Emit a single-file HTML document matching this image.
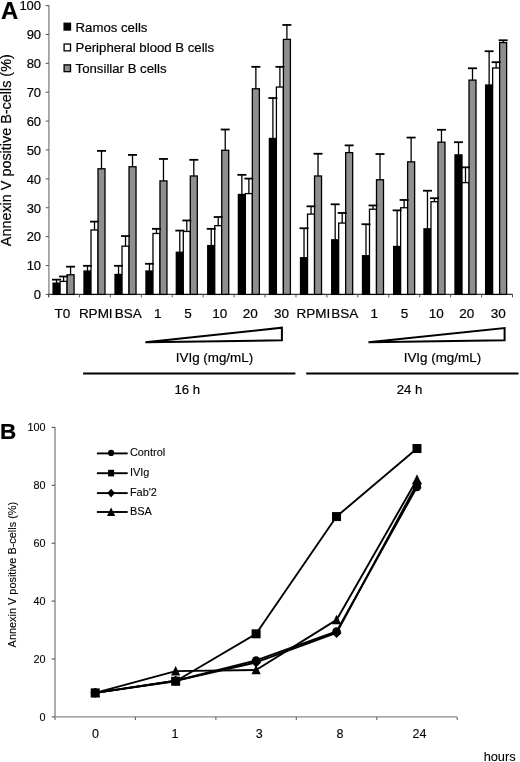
<!DOCTYPE html>
<html><head><meta charset="utf-8"><style>
html,body{margin:0;padding:0;background:#fff;}
body{width:520px;height:762px;overflow:hidden;}
svg{display:block;font-family:"Liberation Sans", sans-serif;will-change:transform;}
svg text{fill:#000;stroke:#000;stroke-width:0.2px;} svg text.b{stroke-width:0.1px;}
</style></head><body>
<svg width="520" height="762" viewBox="0 0 520 762">
<line x1="48.9" y1="5.30" x2="48.9" y2="296.9" stroke="#8a8a8a" stroke-width="1.4"/>
<line x1="45.699999999999996" y1="294.40" x2="48.9" y2="294.40" stroke="#555" stroke-width="1"/>
<text x="41.1" y="299.20" text-anchor="end" font-size="13">0</text>
<line x1="45.699999999999996" y1="265.52" x2="48.9" y2="265.52" stroke="#555" stroke-width="1"/>
<text x="41.1" y="270.32" text-anchor="end" font-size="13">10</text>
<line x1="45.699999999999996" y1="236.64" x2="48.9" y2="236.64" stroke="#555" stroke-width="1"/>
<text x="41.1" y="241.44" text-anchor="end" font-size="13">20</text>
<line x1="45.699999999999996" y1="207.76" x2="48.9" y2="207.76" stroke="#555" stroke-width="1"/>
<text x="41.1" y="212.56" text-anchor="end" font-size="13">30</text>
<line x1="45.699999999999996" y1="178.88" x2="48.9" y2="178.88" stroke="#555" stroke-width="1"/>
<text x="41.1" y="183.68" text-anchor="end" font-size="13">40</text>
<line x1="45.699999999999996" y1="150.00" x2="48.9" y2="150.00" stroke="#555" stroke-width="1"/>
<text x="41.1" y="154.80" text-anchor="end" font-size="13">50</text>
<line x1="45.699999999999996" y1="121.12" x2="48.9" y2="121.12" stroke="#555" stroke-width="1"/>
<text x="41.1" y="125.92" text-anchor="end" font-size="13">60</text>
<line x1="45.699999999999996" y1="92.24" x2="48.9" y2="92.24" stroke="#555" stroke-width="1"/>
<text x="41.1" y="97.04" text-anchor="end" font-size="13">70</text>
<line x1="45.699999999999996" y1="63.36" x2="48.9" y2="63.36" stroke="#555" stroke-width="1"/>
<text x="41.1" y="68.16" text-anchor="end" font-size="13">80</text>
<line x1="45.699999999999996" y1="34.48" x2="48.9" y2="34.48" stroke="#555" stroke-width="1"/>
<text x="41.1" y="39.28" text-anchor="end" font-size="13">90</text>
<line x1="45.699999999999996" y1="5.60" x2="48.9" y2="5.60" stroke="#555" stroke-width="1"/>
<text x="41.1" y="10.40" text-anchor="end" font-size="13">100</text>
<line x1="48.3" y1="294.4" x2="512.8" y2="294.4" stroke="#333" stroke-width="1.3"/>
<line x1="48.50" y1="294.4" x2="48.50" y2="297.4" stroke="#555" stroke-width="1"/>
<line x1="79.43" y1="294.4" x2="79.43" y2="297.4" stroke="#555" stroke-width="1"/>
<line x1="110.37" y1="294.4" x2="110.37" y2="297.4" stroke="#555" stroke-width="1"/>
<line x1="141.30" y1="294.4" x2="141.30" y2="297.4" stroke="#555" stroke-width="1"/>
<line x1="172.23" y1="294.4" x2="172.23" y2="297.4" stroke="#555" stroke-width="1"/>
<line x1="203.17" y1="294.4" x2="203.17" y2="297.4" stroke="#555" stroke-width="1"/>
<line x1="234.10" y1="294.4" x2="234.10" y2="297.4" stroke="#555" stroke-width="1"/>
<line x1="265.03" y1="294.4" x2="265.03" y2="297.4" stroke="#555" stroke-width="1"/>
<line x1="295.97" y1="294.4" x2="295.97" y2="297.4" stroke="#555" stroke-width="1"/>
<line x1="326.90" y1="294.4" x2="326.90" y2="297.4" stroke="#555" stroke-width="1"/>
<line x1="357.83" y1="294.4" x2="357.83" y2="297.4" stroke="#555" stroke-width="1"/>
<line x1="388.77" y1="294.4" x2="388.77" y2="297.4" stroke="#555" stroke-width="1"/>
<line x1="419.70" y1="294.4" x2="419.70" y2="297.4" stroke="#555" stroke-width="1"/>
<line x1="450.63" y1="294.4" x2="450.63" y2="297.4" stroke="#555" stroke-width="1"/>
<line x1="481.57" y1="294.4" x2="481.57" y2="297.4" stroke="#555" stroke-width="1"/>
<line x1="512.50" y1="294.4" x2="512.50" y2="297.4" stroke="#555" stroke-width="1"/>
<rect x="53.07" y="283.14" width="7.0" height="11.26" fill="#000" stroke="#000" stroke-width="1.3"/>
<rect x="60.07" y="281.40" width="7.0" height="13.00" fill="#fff" stroke="#000" stroke-width="1.3"/>
<rect x="67.07" y="274.76" width="7.0" height="19.64" fill="#8f8f8f" stroke="#000" stroke-width="1.3"/>
<line x1="56.57" y1="283.14" x2="56.57" y2="279.67" stroke="#000" stroke-width="1.3"/>
<line x1="52.07" y1="279.67" x2="61.07" y2="279.67" stroke="#000" stroke-width="1.8"/>
<line x1="63.57" y1="281.40" x2="63.57" y2="276.49" stroke="#000" stroke-width="1.3"/>
<line x1="59.07" y1="276.49" x2="68.07" y2="276.49" stroke="#000" stroke-width="1.8"/>
<line x1="70.57" y1="274.76" x2="70.57" y2="266.68" stroke="#000" stroke-width="1.3"/>
<line x1="66.07" y1="266.68" x2="75.07" y2="266.68" stroke="#000" stroke-width="1.8"/>
<text x="62.47" y="317.8" text-anchor="middle" font-size="13.5">T0</text>
<rect x="84.00" y="271.01" width="7.0" height="23.39" fill="#000" stroke="#000" stroke-width="1.3"/>
<rect x="91.00" y="230.00" width="7.0" height="64.40" fill="#fff" stroke="#000" stroke-width="1.3"/>
<rect x="98.00" y="168.77" width="7.0" height="125.63" fill="#8f8f8f" stroke="#000" stroke-width="1.3"/>
<line x1="87.50" y1="271.01" x2="87.50" y2="265.81" stroke="#000" stroke-width="1.3"/>
<line x1="83.00" y1="265.81" x2="92.00" y2="265.81" stroke="#000" stroke-width="1.8"/>
<line x1="94.50" y1="230.00" x2="94.50" y2="221.62" stroke="#000" stroke-width="1.3"/>
<line x1="90.00" y1="221.62" x2="99.00" y2="221.62" stroke="#000" stroke-width="1.8"/>
<line x1="101.50" y1="168.77" x2="101.50" y2="150.87" stroke="#000" stroke-width="1.3"/>
<line x1="97.00" y1="150.87" x2="106.00" y2="150.87" stroke="#000" stroke-width="1.8"/>
<text x="95.75" y="317.8" text-anchor="middle" font-size="13.5">RPMI</text>
<rect x="115.03" y="274.47" width="7.0" height="19.93" fill="#000" stroke="#000" stroke-width="1.3"/>
<rect x="122.03" y="246.17" width="7.0" height="48.23" fill="#fff" stroke="#000" stroke-width="1.3"/>
<rect x="129.03" y="166.75" width="7.0" height="127.65" fill="#8f8f8f" stroke="#000" stroke-width="1.3"/>
<line x1="118.53" y1="274.47" x2="118.53" y2="265.81" stroke="#000" stroke-width="1.3"/>
<line x1="114.03" y1="265.81" x2="123.03" y2="265.81" stroke="#000" stroke-width="1.8"/>
<line x1="125.53" y1="246.17" x2="125.53" y2="236.06" stroke="#000" stroke-width="1.3"/>
<line x1="121.03" y1="236.06" x2="130.03" y2="236.06" stroke="#000" stroke-width="1.8"/>
<line x1="132.53" y1="166.75" x2="132.53" y2="154.91" stroke="#000" stroke-width="1.3"/>
<line x1="128.03" y1="154.91" x2="137.03" y2="154.91" stroke="#000" stroke-width="1.8"/>
<text x="128.33" y="317.8" text-anchor="middle" font-size="13.5">BSA</text>
<rect x="145.97" y="271.01" width="7.0" height="23.39" fill="#000" stroke="#000" stroke-width="1.3"/>
<rect x="152.97" y="233.46" width="7.0" height="60.94" fill="#fff" stroke="#000" stroke-width="1.3"/>
<rect x="159.97" y="180.90" width="7.0" height="113.50" fill="#8f8f8f" stroke="#000" stroke-width="1.3"/>
<line x1="149.47" y1="271.01" x2="149.47" y2="263.79" stroke="#000" stroke-width="1.3"/>
<line x1="144.97" y1="263.79" x2="153.97" y2="263.79" stroke="#000" stroke-width="1.8"/>
<line x1="156.47" y1="233.46" x2="156.47" y2="228.84" stroke="#000" stroke-width="1.3"/>
<line x1="151.97" y1="228.84" x2="160.97" y2="228.84" stroke="#000" stroke-width="1.8"/>
<line x1="163.47" y1="180.90" x2="163.47" y2="158.95" stroke="#000" stroke-width="1.3"/>
<line x1="158.97" y1="158.95" x2="167.97" y2="158.95" stroke="#000" stroke-width="1.8"/>
<text x="157.77" y="317.8" text-anchor="middle" font-size="13.5">1</text>
<rect x="176.30" y="252.24" width="7.0" height="42.16" fill="#000" stroke="#000" stroke-width="1.3"/>
<rect x="183.30" y="231.44" width="7.0" height="62.96" fill="#fff" stroke="#000" stroke-width="1.3"/>
<rect x="190.30" y="175.99" width="7.0" height="118.41" fill="#8f8f8f" stroke="#000" stroke-width="1.3"/>
<line x1="179.80" y1="252.24" x2="179.80" y2="230.58" stroke="#000" stroke-width="1.3"/>
<line x1="175.30" y1="230.58" x2="184.30" y2="230.58" stroke="#000" stroke-width="1.8"/>
<line x1="186.80" y1="231.44" x2="186.80" y2="220.47" stroke="#000" stroke-width="1.3"/>
<line x1="182.30" y1="220.47" x2="191.30" y2="220.47" stroke="#000" stroke-width="1.8"/>
<line x1="193.80" y1="175.99" x2="193.80" y2="159.82" stroke="#000" stroke-width="1.3"/>
<line x1="189.30" y1="159.82" x2="198.30" y2="159.82" stroke="#000" stroke-width="1.8"/>
<text x="188.00" y="317.8" text-anchor="middle" font-size="13.5">5</text>
<rect x="207.73" y="245.59" width="7.0" height="48.81" fill="#000" stroke="#000" stroke-width="1.3"/>
<rect x="214.73" y="225.67" width="7.0" height="68.73" fill="#fff" stroke="#000" stroke-width="1.3"/>
<rect x="221.73" y="150.29" width="7.0" height="144.11" fill="#8f8f8f" stroke="#000" stroke-width="1.3"/>
<line x1="211.23" y1="245.59" x2="211.23" y2="228.84" stroke="#000" stroke-width="1.3"/>
<line x1="206.73" y1="228.84" x2="215.73" y2="228.84" stroke="#000" stroke-width="1.8"/>
<line x1="218.23" y1="225.67" x2="218.23" y2="217.00" stroke="#000" stroke-width="1.3"/>
<line x1="213.73" y1="217.00" x2="222.73" y2="217.00" stroke="#000" stroke-width="1.8"/>
<line x1="225.23" y1="150.29" x2="225.23" y2="129.50" stroke="#000" stroke-width="1.3"/>
<line x1="220.73" y1="129.50" x2="229.73" y2="129.50" stroke="#000" stroke-width="1.8"/>
<text x="219.83" y="317.8" text-anchor="middle" font-size="13.5">10</text>
<rect x="238.37" y="194.48" width="7.0" height="99.92" fill="#000" stroke="#000" stroke-width="1.3"/>
<rect x="245.37" y="193.61" width="7.0" height="100.79" fill="#fff" stroke="#000" stroke-width="1.3"/>
<rect x="252.37" y="88.77" width="7.0" height="205.63" fill="#8f8f8f" stroke="#000" stroke-width="1.3"/>
<line x1="241.87" y1="194.48" x2="241.87" y2="174.84" stroke="#000" stroke-width="1.3"/>
<line x1="237.37" y1="174.84" x2="246.37" y2="174.84" stroke="#000" stroke-width="1.8"/>
<line x1="248.87" y1="193.61" x2="248.87" y2="178.59" stroke="#000" stroke-width="1.3"/>
<line x1="244.37" y1="178.59" x2="253.37" y2="178.59" stroke="#000" stroke-width="1.8"/>
<line x1="255.87" y1="88.77" x2="255.87" y2="66.83" stroke="#000" stroke-width="1.3"/>
<line x1="251.37" y1="66.83" x2="260.37" y2="66.83" stroke="#000" stroke-width="1.8"/>
<text x="250.27" y="317.8" text-anchor="middle" font-size="13.5">20</text>
<rect x="269.40" y="138.45" width="7.0" height="155.95" fill="#000" stroke="#000" stroke-width="1.3"/>
<rect x="276.40" y="87.04" width="7.0" height="207.36" fill="#fff" stroke="#000" stroke-width="1.3"/>
<rect x="283.40" y="39.39" width="7.0" height="255.01" fill="#8f8f8f" stroke="#000" stroke-width="1.3"/>
<line x1="272.90" y1="138.45" x2="272.90" y2="98.02" stroke="#000" stroke-width="1.3"/>
<line x1="268.40" y1="98.02" x2="277.40" y2="98.02" stroke="#000" stroke-width="1.8"/>
<line x1="279.90" y1="87.04" x2="279.90" y2="66.83" stroke="#000" stroke-width="1.3"/>
<line x1="275.40" y1="66.83" x2="284.40" y2="66.83" stroke="#000" stroke-width="1.8"/>
<line x1="286.90" y1="39.39" x2="286.90" y2="24.95" stroke="#000" stroke-width="1.3"/>
<line x1="282.40" y1="24.95" x2="291.40" y2="24.95" stroke="#000" stroke-width="1.8"/>
<text x="281.50" y="317.8" text-anchor="middle" font-size="13.5">30</text>
<rect x="300.53" y="257.72" width="7.0" height="36.68" fill="#000" stroke="#000" stroke-width="1.3"/>
<rect x="307.53" y="214.11" width="7.0" height="80.29" fill="#fff" stroke="#000" stroke-width="1.3"/>
<rect x="314.53" y="175.99" width="7.0" height="118.41" fill="#8f8f8f" stroke="#000" stroke-width="1.3"/>
<line x1="304.03" y1="257.72" x2="304.03" y2="228.26" stroke="#000" stroke-width="1.3"/>
<line x1="299.53" y1="228.26" x2="308.53" y2="228.26" stroke="#000" stroke-width="1.8"/>
<line x1="311.03" y1="214.11" x2="311.03" y2="206.32" stroke="#000" stroke-width="1.3"/>
<line x1="306.53" y1="206.32" x2="315.53" y2="206.32" stroke="#000" stroke-width="1.8"/>
<line x1="318.03" y1="175.99" x2="318.03" y2="153.75" stroke="#000" stroke-width="1.3"/>
<line x1="313.53" y1="153.75" x2="322.53" y2="153.75" stroke="#000" stroke-width="1.8"/>
<text x="313.43" y="317.8" text-anchor="middle" font-size="13.5">RPMI</text>
<rect x="331.67" y="239.82" width="7.0" height="54.58" fill="#000" stroke="#000" stroke-width="1.3"/>
<rect x="338.67" y="223.07" width="7.0" height="71.33" fill="#fff" stroke="#000" stroke-width="1.3"/>
<rect x="345.67" y="152.60" width="7.0" height="141.80" fill="#8f8f8f" stroke="#000" stroke-width="1.3"/>
<line x1="335.17" y1="239.82" x2="335.17" y2="204.29" stroke="#000" stroke-width="1.3"/>
<line x1="330.67" y1="204.29" x2="339.67" y2="204.29" stroke="#000" stroke-width="1.8"/>
<line x1="342.17" y1="223.07" x2="342.17" y2="212.96" stroke="#000" stroke-width="1.3"/>
<line x1="337.67" y1="212.96" x2="346.67" y2="212.96" stroke="#000" stroke-width="1.8"/>
<line x1="349.17" y1="152.60" x2="349.17" y2="145.38" stroke="#000" stroke-width="1.3"/>
<line x1="344.67" y1="145.38" x2="353.67" y2="145.38" stroke="#000" stroke-width="1.8"/>
<text x="344.67" y="317.8" text-anchor="middle" font-size="13.5">BSA</text>
<rect x="362.50" y="255.70" width="7.0" height="38.70" fill="#000" stroke="#000" stroke-width="1.3"/>
<rect x="369.50" y="209.20" width="7.0" height="85.20" fill="#fff" stroke="#000" stroke-width="1.3"/>
<rect x="376.50" y="179.75" width="7.0" height="114.65" fill="#8f8f8f" stroke="#000" stroke-width="1.3"/>
<line x1="366.00" y1="255.70" x2="366.00" y2="224.22" stroke="#000" stroke-width="1.3"/>
<line x1="361.50" y1="224.22" x2="370.50" y2="224.22" stroke="#000" stroke-width="1.8"/>
<line x1="373.00" y1="209.20" x2="373.00" y2="205.45" stroke="#000" stroke-width="1.3"/>
<line x1="368.50" y1="205.45" x2="377.50" y2="205.45" stroke="#000" stroke-width="1.8"/>
<line x1="380.00" y1="179.75" x2="380.00" y2="154.04" stroke="#000" stroke-width="1.3"/>
<line x1="375.50" y1="154.04" x2="384.50" y2="154.04" stroke="#000" stroke-width="1.8"/>
<text x="374.30" y="317.8" text-anchor="middle" font-size="13.5">1</text>
<rect x="393.63" y="246.46" width="7.0" height="47.94" fill="#000" stroke="#000" stroke-width="1.3"/>
<rect x="400.63" y="207.76" width="7.0" height="86.64" fill="#fff" stroke="#000" stroke-width="1.3"/>
<rect x="407.63" y="161.84" width="7.0" height="132.56" fill="#8f8f8f" stroke="#000" stroke-width="1.3"/>
<line x1="397.13" y1="246.46" x2="397.13" y2="210.36" stroke="#000" stroke-width="1.3"/>
<line x1="392.63" y1="210.36" x2="401.63" y2="210.36" stroke="#000" stroke-width="1.8"/>
<line x1="404.13" y1="207.76" x2="404.13" y2="199.96" stroke="#000" stroke-width="1.3"/>
<line x1="399.63" y1="199.96" x2="408.63" y2="199.96" stroke="#000" stroke-width="1.8"/>
<line x1="411.13" y1="161.84" x2="411.13" y2="137.58" stroke="#000" stroke-width="1.3"/>
<line x1="406.63" y1="137.58" x2="415.63" y2="137.58" stroke="#000" stroke-width="1.8"/>
<text x="404.63" y="317.8" text-anchor="middle" font-size="13.5">5</text>
<rect x="423.97" y="228.84" width="7.0" height="65.56" fill="#000" stroke="#000" stroke-width="1.3"/>
<rect x="430.97" y="201.70" width="7.0" height="92.70" fill="#fff" stroke="#000" stroke-width="1.3"/>
<rect x="437.97" y="142.20" width="7.0" height="152.20" fill="#8f8f8f" stroke="#000" stroke-width="1.3"/>
<line x1="427.47" y1="228.84" x2="427.47" y2="190.72" stroke="#000" stroke-width="1.3"/>
<line x1="422.97" y1="190.72" x2="431.97" y2="190.72" stroke="#000" stroke-width="1.8"/>
<line x1="434.47" y1="201.70" x2="434.47" y2="198.23" stroke="#000" stroke-width="1.3"/>
<line x1="429.97" y1="198.23" x2="438.97" y2="198.23" stroke="#000" stroke-width="1.8"/>
<line x1="441.47" y1="142.20" x2="441.47" y2="129.78" stroke="#000" stroke-width="1.3"/>
<line x1="436.97" y1="129.78" x2="445.97" y2="129.78" stroke="#000" stroke-width="1.8"/>
<text x="436.37" y="317.8" text-anchor="middle" font-size="13.5">10</text>
<rect x="455.00" y="154.91" width="7.0" height="139.49" fill="#000" stroke="#000" stroke-width="1.3"/>
<rect x="462.00" y="182.63" width="7.0" height="111.77" fill="#fff" stroke="#000" stroke-width="1.3"/>
<rect x="469.00" y="80.11" width="7.0" height="214.29" fill="#8f8f8f" stroke="#000" stroke-width="1.3"/>
<line x1="458.50" y1="154.91" x2="458.50" y2="142.20" stroke="#000" stroke-width="1.3"/>
<line x1="454.00" y1="142.20" x2="463.00" y2="142.20" stroke="#000" stroke-width="1.8"/>
<line x1="465.50" y1="182.63" x2="465.50" y2="167.33" stroke="#000" stroke-width="1.3"/>
<line x1="461.00" y1="167.33" x2="470.00" y2="167.33" stroke="#000" stroke-width="1.8"/>
<line x1="472.50" y1="80.11" x2="472.50" y2="68.27" stroke="#000" stroke-width="1.3"/>
<line x1="468.00" y1="68.27" x2="477.00" y2="68.27" stroke="#000" stroke-width="1.8"/>
<text x="466.80" y="317.8" text-anchor="middle" font-size="13.5">20</text>
<rect x="485.63" y="85.02" width="7.0" height="209.38" fill="#000" stroke="#000" stroke-width="1.3"/>
<rect x="492.63" y="67.98" width="7.0" height="226.42" fill="#fff" stroke="#000" stroke-width="1.3"/>
<rect x="499.63" y="42.57" width="7.0" height="251.83" fill="#8f8f8f" stroke="#000" stroke-width="1.3"/>
<line x1="489.13" y1="85.02" x2="489.13" y2="51.23" stroke="#000" stroke-width="1.3"/>
<line x1="484.63" y1="51.23" x2="493.63" y2="51.23" stroke="#000" stroke-width="1.8"/>
<line x1="496.13" y1="67.98" x2="496.13" y2="62.20" stroke="#000" stroke-width="1.3"/>
<line x1="491.63" y1="62.20" x2="500.63" y2="62.20" stroke="#000" stroke-width="1.8"/>
<line x1="503.13" y1="42.57" x2="503.13" y2="40.26" stroke="#000" stroke-width="1.3"/>
<line x1="498.63" y1="40.26" x2="507.63" y2="40.26" stroke="#000" stroke-width="1.8"/>
<text x="498.23" y="317.8" text-anchor="middle" font-size="13.5">30</text>
<rect x="64.1" y="23.25" width="6.4" height="6.8" fill="#000" stroke="#000" stroke-width="1.3"/>
<text x="75.6" y="31.50" font-size="13.2">Ramos cells</text>
<rect x="64.1" y="44.05" width="6.4" height="6.8" fill="#fff" stroke="#000" stroke-width="1.3"/>
<text x="75.6" y="52.30" font-size="13.2">Peripheral blood B cells</text>
<rect x="64.1" y="64.85" width="6.4" height="6.8" fill="#8f8f8f" stroke="#000" stroke-width="1.3"/>
<text x="75.6" y="73.10" font-size="13.2">Tonsillar B cells</text>
<polygon points="145.4,342.2 281.9,327.7 281.9,340.3" fill="#fff" stroke="#000" stroke-width="2" stroke-linejoin="miter"/>
<polygon points="368.5,342.2 504.6,328.1 504.6,340.3" fill="#fff" stroke="#000" stroke-width="2" stroke-linejoin="miter"/>
<line x1="83.1" y1="373.5" x2="295.4" y2="373.5" stroke="#000" stroke-width="2.1"/>
<line x1="306.2" y1="373.5" x2="518.5" y2="373.5" stroke="#000" stroke-width="2.1"/>
<line x1="55.0" y1="427.10" x2="55.0" y2="716.9" stroke="#8a8a8a" stroke-width="1.4"/>
<line x1="51.6" y1="716.90" x2="55.0" y2="716.90" stroke="#555" stroke-width="1.1"/>
<text class="b" x="45.6" y="720.50" text-anchor="end" font-size="10.8">0</text>
<line x1="51.6" y1="659.00" x2="55.0" y2="659.00" stroke="#555" stroke-width="1.1"/>
<text class="b" x="45.6" y="662.60" text-anchor="end" font-size="10.8">20</text>
<line x1="51.6" y1="601.10" x2="55.0" y2="601.10" stroke="#555" stroke-width="1.1"/>
<text class="b" x="45.6" y="604.70" text-anchor="end" font-size="10.8">40</text>
<line x1="51.6" y1="543.20" x2="55.0" y2="543.20" stroke="#555" stroke-width="1.1"/>
<text class="b" x="45.6" y="546.80" text-anchor="end" font-size="10.8">60</text>
<line x1="51.6" y1="485.30" x2="55.0" y2="485.30" stroke="#555" stroke-width="1.1"/>
<text class="b" x="45.6" y="488.90" text-anchor="end" font-size="10.8">80</text>
<line x1="51.6" y1="427.40" x2="55.0" y2="427.40" stroke="#555" stroke-width="1.1"/>
<text class="b" x="45.6" y="431.00" text-anchor="end" font-size="10.8">100</text>
<line x1="55.0" y1="716.9" x2="457.2" y2="716.9" stroke="#8a8a8a" stroke-width="1.4"/>
<line x1="55.00" y1="716.9" x2="55.00" y2="719.9" stroke="#666" stroke-width="1.1"/>
<line x1="135.44" y1="716.9" x2="135.44" y2="719.9" stroke="#666" stroke-width="1.1"/>
<line x1="215.88" y1="716.9" x2="215.88" y2="719.9" stroke="#666" stroke-width="1.1"/>
<line x1="296.32" y1="716.9" x2="296.32" y2="719.9" stroke="#666" stroke-width="1.1"/>
<line x1="376.76" y1="716.9" x2="376.76" y2="719.9" stroke="#666" stroke-width="1.1"/>
<line x1="457.20" y1="716.9" x2="457.20" y2="719.9" stroke="#666" stroke-width="1.1"/>
<polyline points="95.22,692.87 175.66,680.71 256.10,660.45 336.54,631.50 416.98,487.04" fill="none" stroke="#000" stroke-width="1.9" stroke-linejoin="round"/>
<polyline points="95.22,692.87 175.66,681.29 256.10,633.81 336.54,516.57 416.98,448.53" fill="none" stroke="#000" stroke-width="1.9" stroke-linejoin="round"/>
<polyline points="95.22,692.87 175.66,680.71 256.10,662.47 336.54,632.94 416.98,483.85" fill="none" stroke="#000" stroke-width="1.9" stroke-linejoin="round"/>
<polyline points="95.22,692.87 175.66,671.16 256.10,670.00 336.54,619.92 416.98,479.51" fill="none" stroke="#000" stroke-width="1.9" stroke-linejoin="round"/>
<circle cx="95.22" cy="692.87" r="4.3" fill="#000"/>
<circle cx="175.66" cy="680.71" r="4.3" fill="#000"/>
<circle cx="256.10" cy="660.45" r="4.3" fill="#000"/>
<circle cx="336.54" cy="631.50" r="4.3" fill="#000"/>
<circle cx="416.98" cy="487.04" r="4.3" fill="#000"/>
<rect x="90.72" y="688.37" width="9" height="9" fill="#000"/>
<rect x="171.16" y="676.79" width="9" height="9" fill="#000"/>
<rect x="251.60" y="629.31" width="9" height="9" fill="#000"/>
<rect x="332.04" y="512.07" width="9" height="9" fill="#000"/>
<rect x="412.48" y="444.03" width="9" height="9" fill="#000"/>
<polygon points="95.22,687.87 100.22,692.87 95.22,697.87 90.22,692.87" fill="#000"/>
<polygon points="175.66,675.71 180.66,680.71 175.66,685.71 170.66,680.71" fill="#000"/>
<polygon points="256.10,657.47 261.10,662.47 256.10,667.47 251.10,662.47" fill="#000"/>
<polygon points="336.54,627.94 341.54,632.94 336.54,637.94 331.54,632.94" fill="#000"/>
<polygon points="416.98,478.85 421.98,483.85 416.98,488.85 411.98,483.85" fill="#000"/>
<polygon points="95.22,687.67 99.82,697.17 90.62,697.17" fill="#000"/>
<polygon points="175.66,665.96 180.26,675.46 171.06,675.46" fill="#000"/>
<polygon points="256.10,664.80 260.70,674.30 251.50,674.30" fill="#000"/>
<polygon points="336.54,614.72 341.14,624.22 331.94,624.22" fill="#000"/>
<polygon points="416.98,474.31 421.58,483.81 412.38,483.81" fill="#000"/>
<line x1="96.9" y1="453.40" x2="127.7" y2="453.40" stroke="#000" stroke-width="1.9"/>
<circle cx="111.10" cy="452.90" r="3.1" fill="#000"/>
<text class="b" x="129.9" y="456.30" font-size="10.95">Control</text>
<line x1="96.9" y1="473.20" x2="127.7" y2="473.20" stroke="#000" stroke-width="1.9"/>
<rect x="108.10" y="469.80" width="6" height="6.6" fill="#000"/>
<text class="b" x="129.9" y="476.10" font-size="10.95">IVIg</text>
<line x1="96.9" y1="493.10" x2="127.7" y2="493.10" stroke="#000" stroke-width="1.9"/>
<polygon points="111.10,488.80 114.90,493.10 111.10,497.40 107.30,493.10" fill="#000"/>
<text class="b" x="129.9" y="496.00" font-size="10.95">Fab'2</text>
<line x1="96.9" y1="512.00" x2="127.7" y2="512.00" stroke="#000" stroke-width="1.9"/>
<polygon points="111.10,507.40 115.20,515.90 107.00,515.90" fill="#000"/>
<text class="b" x="129.9" y="514.90" font-size="10.95">BSA</text>
<text transform="translate(10.85,246.20) rotate(-90)" font-size="14.4">Annexin V positive B-cells (%)</text>
<text x="0.97" y="18.93" font-weight="bold" font-size="23.85">A</text>
<text x="175.78" y="361.95" font-size="13.4">IVIg (mg/mL)</text>
<text x="403.73" y="361.95" font-size="13.4">IVIg (mg/mL)</text>
<text x="174.47" y="393.75" font-size="13.2">16 h</text>
<text x="396.75" y="393.75" font-size="13.2">24 h</text>
<text x="-0.07" y="438.90" font-weight="bold" font-size="22.5">B</text>
<text class="b" x="92.05" y="738.23" font-size="12.5">0</text>
<text class="b" x="171.53" y="738.20" font-size="12.5">1</text>
<text class="b" x="255.65" y="738.17" font-size="12.5">3</text>
<text class="b" x="336.60" y="738.23" font-size="12.5">8</text>
<text class="b" x="412.52" y="738.33" font-size="12.5">24</text>
<text class="b" x="483.65" y="760.83" font-size="12.8">hours</text>
<text class="b" transform="translate(16.02,647.38) rotate(-90)" font-size="10.92">Annexin V positive B-cells (%)</text>
</svg>
</body></html>
